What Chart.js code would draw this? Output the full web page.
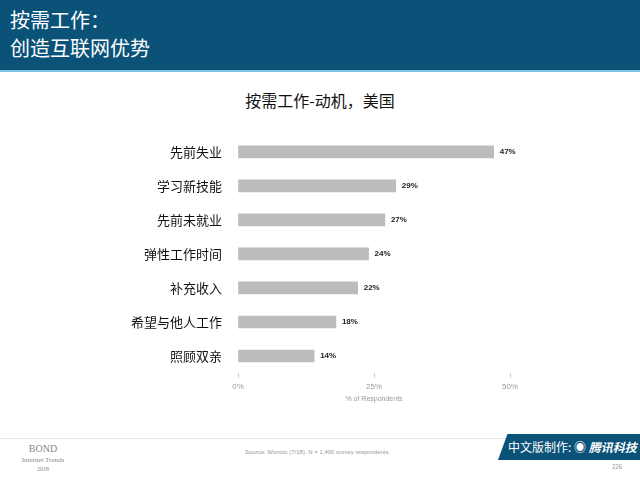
<!DOCTYPE html>
<html><head><meta charset="utf-8">
<script src="https://cdn.jsdelivr.net/npm/chart.js@4"></script>
<style>
body{margin:0;width:640px;height:480px;position:relative;background:#fff;font-family:"Noto Sans CJK SC",sans-serif;overflow:hidden}
#hdr{position:absolute;left:0;top:0;width:640px;height:72px;background:#0b5279;border-bottom:2px solid #7cc4e4;box-sizing:border-box}
#hdr div{position:absolute;left:10px;color:#fff;font-size:20px;line-height:24px}
#ttl{position:absolute;left:0;width:640px;top:88px;text-align:center;font-size:16px;color:#111}
#cw{position:absolute;left:0;top:119px;width:640px;height:288px}
.sm{position:absolute;font-family:"Liberation Serif",serif;color:#888;text-align:center}
#foot{position:absolute;left:0;top:438px;width:640px;border-top:1px solid #e6e6e6}
#src{position:absolute;left:245px;top:449px;font-size:6px;color:#999;font-family:Arial,sans-serif}
#badge{position:absolute;left:498px;top:434px;width:142px;height:26px;background:#0b5279;transform:skewX(-20deg);transform-origin:bottom left}
#btxt{position:absolute;left:508px;top:438px;color:#fff;font-size:12px;white-space:nowrap}
</style></head><body>
<div id="hdr"><div style="top:8px">按需工作：</div><div style="top:36px">创造互联网优势</div></div>
<div id="ttl">按需工作-动机，美国</div>
<div id="cw"><canvas id="c"></canvas></div>
<div id="foot"></div>
<div id="src">Source: Wonolo (7/18). N = 1,400 survey respondents.</div>
<div class="sm" style="left:18px;top:443px;font-size:10px;width:50px">BOND</div>
<div class="sm" style="left:12px;top:456px;font-size:7px;width:62px">Internet Trends</div>
<div class="sm" style="left:18px;top:466px;font-size:6px;width:50px">2018</div>
<div id="badge"></div>
<div id="btxt">中文版制作: ◉ <b><i>腾讯科技</i></b></div>
<div style="position:absolute;left:612px;top:462px;font-size:6px;color:#999">226</div>
<script>
const categories=["先前失业","学习新技能","先前未就业","弹性工作时间","补充收入","希望与他人工作","照顾双亲"];
const values=[47,29,27,24,22,18,14];
const xTicks=[0,25,50];
const labelPlugin={id:'lbl',afterDatasetsDraw(ch){const ctx=ch.ctx;const m=ch.getDatasetMeta(0);ctx.save();ctx.font='bold 8px Arial';ctx.fillStyle='#222';ctx.textBaseline='middle';m.data.forEach((b,i)=>{ctx.fillText(values[i]+'%',b.x+6,b.y);});ctx.restore();}};
new Chart(document.getElementById('c'),{type:'bar',
data:{labels:categories,datasets:[{data:values,backgroundColor:'#bcbcbe',barThickness:12}]},
options:{indexAxis:'y',responsive:true,maintainAspectRatio:false,animation:false,
layout:{padding:{top:4,right:130,bottom:0,left:0}},
plugins:{legend:{display:false},tooltip:{enabled:false}},
scales:{
y:{grid:{display:false},border:{display:false},ticks:{color:'#111',font:{size:13,family:'"Noto Sans CJK SC"'},padding:8},afterFit(s){s.width=238;}},
x:{min:0,max:50,afterBuildTicks(s){s.ticks=xTicks.map(v=>({value:v}));},
grid:{drawOnChartArea:false,tickLength:5,color:'#ccc'},border:{display:false},
ticks:{color:'#999',font:{size:8,family:'Arial'},callback:v=>v+'%',padding:4},
title:{display:true,text:'% of Respondents',color:'#999',font:{size:7,family:'Arial'},padding:{top:2}},
afterFit(s){s.height=34;}}}},
plugins:[labelPlugin]});
</script></body></html>
